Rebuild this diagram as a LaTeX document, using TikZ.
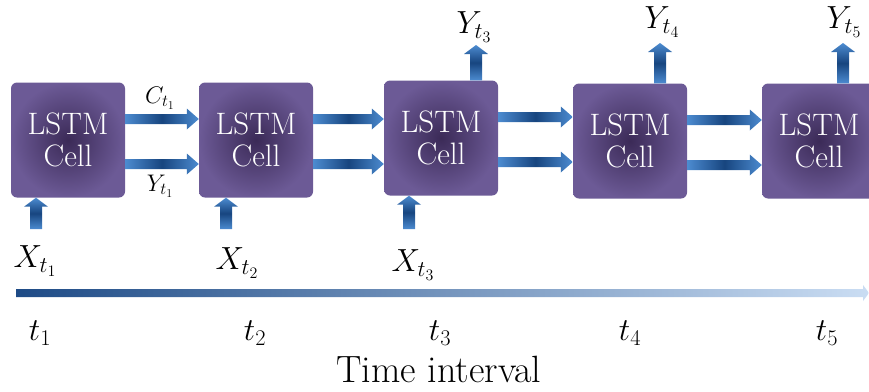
\documentclass[tikz,border=0pt]{standalone}
\usepackage{fix-cm}
\usetikzlibrary{calc}

\definecolor{zellhell}{HTML}{6C5A96}
\definecolor{zelldunkel}{HTML}{3B2A57}
\definecolor{pfeilhell}{HTML}{4C8BD0}
\definecolor{pfeildunkel}{HTML}{17457F}
\definecolor{zeitdunkel}{HTML}{1E4B86}
\definecolor{zeithell}{HTML}{CADDF3}

\tikzset{
	zelle/.style={rectangle, rounded corners=6pt, minimum width=114pt,
	minimum height=115pt, inner color=zelldunkel, outer color=zellhell,
	text=white, align=center, font=\fontsize{31}{32}\selectfont},
	hpfeilfill/.style={left color=pfeilhell, right color=pfeilhell,
	middle color=pfeildunkel},
	vpfeilfill/.style={bottom color=pfeilhell, top color=pfeilhell,
	middle color=pfeildunkel},
	zeitfill/.style={left color=zeitdunkel, right color=zeithell},
	gross/.style={font=\fontsize{32}{32}\selectfont},
	klein/.style={font=\fontsize{24}{24}\selectfont}
}

% waagrechter Pfeil zwischen zwei Zellen
\newcommand\hpfeil[3]{%
	\path[hpfeilfill] let \p1=(#1.east), \p2=(#2.west) in
	(\x1,{\y1+(#3)+5pt}) -- (\x2-12pt,{\y1+(#3)+5pt})
	-- (\x2-12pt,{\y1+(#3)+10.5pt}) -- (\x2,{\y1+(#3)})
	-- (\x2-12pt,{\y1+(#3)-10.5pt}) -- (\x2-12pt,{\y1+(#3)-5pt})
	-- (\x1,{\y1+(#3)-5pt}) -- cycle;}
% senkrechter Pfeil nach oben
\newcommand\vpfeil[2]{%
	\path[vpfeilfill] let \p1=(#1), \p2=(#2) in
	(\x1-6pt,\y1) -- (\x1-6pt,\y2-9pt) -- (\x1-12pt,\y2-9pt)
	-- (\x1,\y2) -- (\x1+12pt,\y2-9pt) -- (\x1+6pt,\y2-9pt)
	-- (\x1+6pt,\y1) -- cycle;}

\begin{document}
\begin{tikzpicture}[x=1pt, y=-1pt]
	\useasboundingbox (0,0) rectangle (869,391);
	\clip (0,0) rectangle (869,391);

	% Zellen
	\node[zelle] (zelle1) at (68,140) {LSTM\\Cell};
	\node[zelle] (zelle2) at (256,140) {LSTM\\Cell};
	\node[zelle] (zelle3) at (441,138) {LSTM\\Cell};
	\node[zelle] (zelle4) at (630,141) {LSTM\\Cell};
	\node[zelle] (zelle5) at (819,141) {LSTM\\Cell};

	% Verbindungen
	\foreach \a/\b in {1/2,2/3,3/4,4/5} {
		\hpfeil{zelle\a}{zelle\b}{21pt}
		\hpfeil{zelle\a}{zelle\b}{-24pt}
	}
	\node[klein] (c1) at (160,98) {$C_{t_1}$};
	\node[klein] (y1) at (160,186) {$Y_{t_1}$};

	% Eingaben
	\coordinate (ein1) at (36,229);
	\coordinate (ein2) at (226,229);
	\coordinate (ein3) at (409,229);
	\foreach \i in {1,2,3}
		\vpfeil{ein\i}{zelle\i.south};
	\node[gross] (x1) at (35,261) {$X_{t_1}$};
	\node[gross] (x2) at (237,263) {$X_{t_2}$};
	\node[gross] (x3) at (413,265) {$X_{t_3}$};

	% Ausgaben
	\coordinate (aus3) at (476,45);
	\coordinate (aus4) at (660,43);
	\coordinate (aus5) at (843,43);
	\foreach \i in {3,4,5}
		\vpfeil{aus\i |- zelle\i.north}{aus\i};
	\node[gross] (y3) at (474,27) {$Y_{t_3}$};
	\node[gross] (y4) at (662,22) {$Y_{t_4}$};
	\node[gross] (y5) at (844,22) {$Y_{t_5}$};

	% Zeitachse
	\coordinate (start) at (16,293);
	\coordinate (ende) at (869,293);
	\path[zeitfill] let \p1=(start), \p2=(ende) in
	(\x1,\y1+4pt) -- (\x2-6pt,\y1+4pt) -- (\x2-6pt,\y1+8pt) -- (\x2,\y1)
	-- (\x2-6pt,\y1-8pt) -- (\x2-6pt,\y1-4pt) -- (\x1,\y1-4pt) -- cycle;
	\foreach \i/\x in {1/40,2/255,3/440,4/630,5/827}
		\node[gross] (t\i) at (\x,333) {$t_{\i}$};
	\node[font=\fontsize{38}{38}\selectfont] (zeit) at (439,369)
	{Time interval};
\end{tikzpicture}
\end{document}
